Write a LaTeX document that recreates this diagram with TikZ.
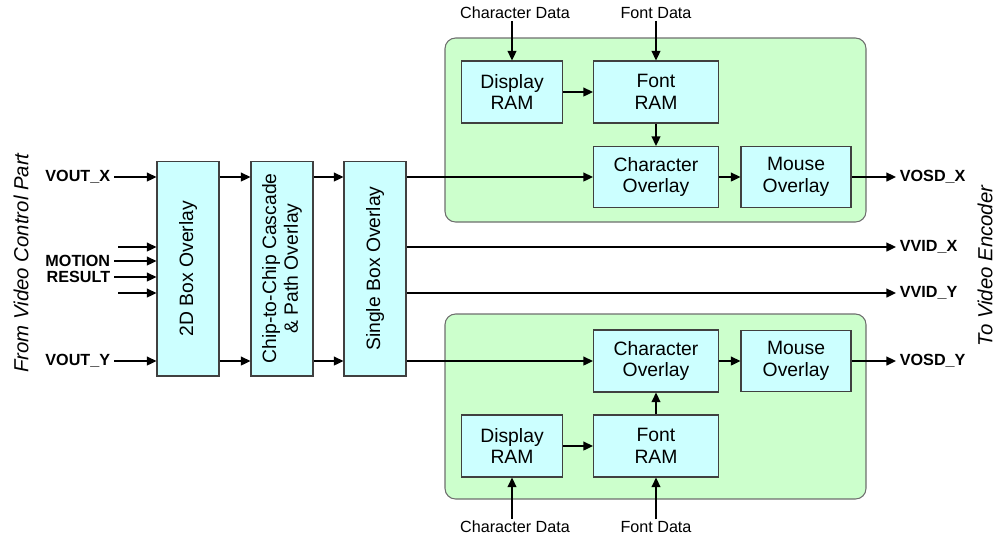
\documentclass[tikz,border=0pt]{standalone}
\usepackage{fontspec}
\setmainfont{Liberation Sans}
\usetikzlibrary{arrows.meta,positioning,calc}
\definecolor{BlockCyan}{HTML}{CCFFFF}
\definecolor{PanelGreen}{HTML}{CCFFCC}
\definecolor{BlockEdge}{HTML}{404040}
\definecolor{PanelEdge}{HTML}{6E6E6E}

\begin{document}
\begin{tikzpicture}[
  x=0.02cm,y=-0.02cm,>={Triangle[length=5.5pt,width=5pt]},
  every node/.style={font=\fontsize{11}{12.5}\selectfont,text=black},
  block/.style={draw=BlockEdge,fill=BlockCyan,line width=.6pt,
    inner sep=1pt,align=center},
  stage/.style={block,rotate=90,minimum width=4.3cm,minimum height=1.24cm},
  panel/.style={draw=PanelEdge,fill=PanelGreen,line width=.6pt,rounded corners=6pt},
  signal/.style={font=\fontsize{9.2}{10}\selectfont\bfseries,inner sep=2pt},
  feed/.style={font=\fontsize{9.2}{10}\selectfont,inner sep=1pt},
  side/.style={font=\fontsize{11.6}{13}\selectfont\itshape,rotate=90},
  wire/.style={->,line width=1.1pt}
]
\useasboundingbox (0,0) rectangle (997,539);
% OSD panels for the X and Y paths
\draw[panel] (445,38) rectangle (866,222);
\draw[panel] (445,314) rectangle (866,499);
% Main overlay chain (rotated: north = left side, south = right side)
\node[stage] (box2d) at (188,268.5) {2D Box Overlay};
\node[stage] (cascade) at (282,268.5) {Chip-to-Chip Cascade\\\& Path Overlay};
\node[stage] (single) at (375,268.5) {Single Box Overlay};
% X path OSD
\node[block,minimum width=2.02cm,minimum height=1.24cm] (dramx) at (512,92) {Display\\RAM};
\node[block,minimum width=2.5cm,minimum height=1.24cm] (framx) at (656,92) {Font\\RAM};
\node[block,minimum width=2.5cm,minimum height=1.22cm] (charx) at (656,177) {Character\\Overlay};
\node[block,minimum width=2.2cm,minimum height=1.22cm] (mousex) at (796,177) {Mouse\\Overlay};
% Y path OSD
\node[block,minimum width=2.5cm,minimum height=1.24cm] (chary) at (656,361) {Character\\Overlay};
\node[block,minimum width=2.2cm,minimum height=1.22cm] (mousey) at (796,361) {Mouse\\Overlay};
\node[block,minimum width=2.02cm,minimum height=1.24cm] (dramy) at (512,446) {Display\\RAM};
\node[block,minimum width=2.5cm,minimum height=1.24cm] (framy) at (656,446) {Font\\RAM};
% Data feeds
\node[feed] (cdatax) at (515,13) {Character Data};
\node[feed] (fdatax) at (656,13) {Font Data};
\node[feed] (cdatay) at (515,527) {Character Data};
\node[feed] (fdatay) at (656,527) {Font Data};
\draw[wire] (cdatax.south -| dramx.north) -- (dramx.north);
\draw[wire] (fdatax.south -| framx.north) -- (framx.north);
\draw[wire] (cdatay.north -| dramy.south) -- (dramy.south);
\draw[wire] (fdatay.north -| framy.south) -- (framy.south);
% Inputs
\node[signal,anchor=east] (voutx) at (114,177) {VOUT\_X};
\node[signal,anchor=east] (vouty) at (114,361) {VOUT\_Y};
\node[signal,anchor=east] (motion) at (114,261) {MOTION};
\node[signal,anchor=east] (result) at (114,277) {RESULT};
\coordinate (inA) at (118,247);
\coordinate (inB) at (118,293);
\draw[wire] (voutx.east) -- (voutx.east -| box2d.north);
\draw[wire] (vouty.east) -- (vouty.east -| box2d.north);
\draw[wire] (inA) -- (inA -| box2d.north);
\draw[wire] (motion.east) -- (motion.east -| box2d.north);
\draw[wire] (result.east) -- (result.east -| box2d.north);
\draw[wire] (inB) -- (inB -| box2d.north);
% Chain links
\draw[wire] (voutx.east -| box2d.south) -- (voutx.east -| cascade.north);
\draw[wire] (vouty.east -| box2d.south) -- (vouty.east -| cascade.north);
\draw[wire] (voutx.east -| cascade.south) -- (voutx.east -| single.north);
\draw[wire] (vouty.east -| cascade.south) -- (vouty.east -| single.north);
\draw[wire] (charx.west -| single.south) -- (charx.west);
\draw[wire] (chary.west -| single.south) -- (chary.west);
% OSD internals
\draw[wire] (dramx.east) -- (dramx.east -| framx.west);
\draw[wire] (framx.south) -- (charx.north);
\draw[wire] (charx.east) -- (mousex.west);
\draw[wire] (dramy.east) -- (dramy.east -| framy.west);
\draw[wire] (framy.north) -- (chary.south);
\draw[wire] (chary.east) -- (mousey.west);
% Outputs
\node[signal,anchor=west] (vosdx) at (896,177) {VOSD\_X};
\node[signal,anchor=west] (vvidx) at (896,247) {VVID\_X};
\node[signal,anchor=west] (vvidy) at (896,293) {VVID\_Y};
\node[signal,anchor=west] (vosdy) at (896,361) {VOSD\_Y};
\draw[wire] (mousex.east) -- (vosdx.west);
\draw[wire] (mousey.east) -- (vosdy.west);
\draw[wire] (vvidx.west -| single.south) -- (vvidx.west);
\draw[wire] (vvidy.west -| single.south) -- (vvidy.west);
% Side captions
\node[side] (fromvc) at (21,263) {From Video Control Part};
\node[side] (tovenc) at (985,266) {To Video Encoder};
\end{tikzpicture}
\end{document}
